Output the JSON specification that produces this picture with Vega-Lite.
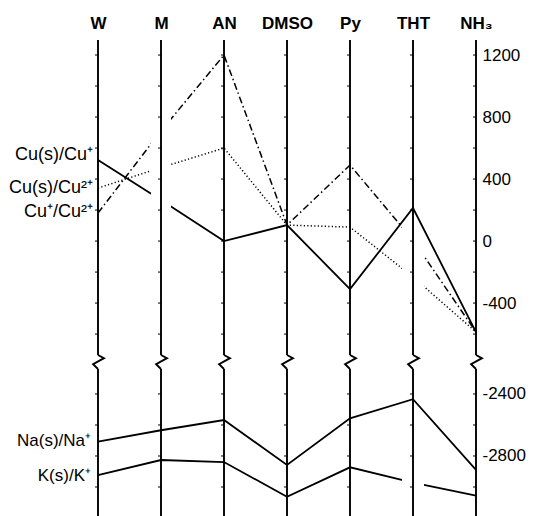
{
  "$schema": "https://vega.github.io/schema/vega-lite/v6.json",
  "width": 476,
  "height": 476,
  "autosize": {"type": "none"},
  "padding": {"left": 0, "top": 40, "right": 63, "bottom": 0},
  "background": "white",
  "config": {"view": {"stroke": null}, "font": "Liberation Sans"},
  "datasets": {
    "E": [
      {"couple": "Cu(s)/Cu+", "solvent": "W", "E": 523},
      {"couple": "Cu(s)/Cu+", "solvent": "M", "E": 265},
      {"couple": "Cu(s)/Cu+", "solvent": "AN", "E": 0},
      {"couple": "Cu(s)/Cu+", "solvent": "DMSO", "E": 103},
      {"couple": "Cu(s)/Cu+", "solvent": "Py", "E": -310},
      {"couple": "Cu(s)/Cu+", "solvent": "THT", "E": 213},
      {"couple": "Cu(s)/Cu+", "solvent": "NH₃", "E": -587},
      {"couple": "Cu(s)/Cu2+", "solvent": "W", "E": 342},
      {"couple": "Cu(s)/Cu2+", "solvent": "M", "E": 474},
      {"couple": "Cu(s)/Cu2+", "solvent": "AN", "E": 600},
      {"couple": "Cu(s)/Cu2+", "solvent": "DMSO", "E": 103},
      {"couple": "Cu(s)/Cu2+", "solvent": "Py", "E": 90},
      {"couple": "Cu(s)/Cu2+", "solvent": "THT", "E": -232},
      {"couple": "Cu(s)/Cu2+", "solvent": "NH₃", "E": -587},
      {"couple": "Cu+/Cu2+", "solvent": "W", "E": 181},
      {"couple": "Cu+/Cu2+", "solvent": "M", "E": 710},
      {"couple": "Cu+/Cu2+", "solvent": "AN", "E": 1200},
      {"couple": "Cu+/Cu2+", "solvent": "DMSO", "E": 103},
      {"couple": "Cu+/Cu2+", "solvent": "Py", "E": 490},
      {"couple": "Cu+/Cu2+", "solvent": "THT", "E": 6},
      {"couple": "Cu+/Cu2+", "solvent": "NH₃", "E": -587},
      {"couple": "Na(s)/Na+", "solvent": "W", "E": -2708},
      {"couple": "Na(s)/Na+", "solvent": "M", "E": -2634},
      {"couple": "Na(s)/Na+", "solvent": "AN", "E": -2568},
      {"couple": "Na(s)/Na+", "solvent": "DMSO", "E": -2858},
      {"couple": "Na(s)/Na+", "solvent": "Py", "E": -2557},
      {"couple": "Na(s)/Na+", "solvent": "THT", "E": -2434},
      {"couple": "Na(s)/Na+", "solvent": "NH₃", "E": -2890},
      {"couple": "K(s)/K+", "solvent": "W", "E": -2923},
      {"couple": "K(s)/K+", "solvent": "M", "E": -2826},
      {"couple": "K(s)/K+", "solvent": "AN", "E": -2839},
      {"couple": "K(s)/K+", "solvent": "DMSO", "E": -3063},
      {"couple": "K(s)/K+", "solvent": "Py", "E": -2873},
      {"couple": "K(s)/K+", "solvent": "THT", "E": -2972},
      {"couple": "K(s)/K+", "solvent": "NH₃", "E": -3056}
    ],
    "solvents": [
      {"solvent": "W"}, {"solvent": "M"}, {"solvent": "AN"}, {"solvent": "DMSO"},
      {"solvent": "Py"}, {"solvent": "THT"}, {"solvent": "NH₃"}
    ],
    "ticks": [
      {"E": 1200, "solvent": ["W", "M", "AN", "DMSO", "Py", "THT", "NH₃"]},
      {"E": 1000, "solvent": ["W", "M", "AN", "DMSO", "Py", "THT", "NH₃"]},
      {"E": 800, "solvent": ["W", "M", "AN", "DMSO", "Py", "THT", "NH₃"]},
      {"E": 600, "solvent": ["W", "M", "AN", "DMSO", "Py", "THT", "NH₃"]},
      {"E": 400, "solvent": ["W", "M", "AN", "DMSO", "Py", "THT", "NH₃"]},
      {"E": 200, "solvent": ["W", "M", "AN", "DMSO", "Py", "THT", "NH₃"]},
      {"E": 0, "solvent": ["W", "M", "AN", "DMSO", "Py", "THT", "NH₃"]},
      {"E": -200, "solvent": ["W", "M", "AN", "DMSO", "Py", "THT", "NH₃"]},
      {"E": -400, "solvent": ["W", "M", "AN", "DMSO", "Py", "THT", "NH₃"]},
      {"E": -600, "solvent": ["W", "M", "AN", "DMSO", "Py", "THT", "NH₃"]},
      {"E": -2400, "solvent": ["W", "M", "AN", "DMSO", "Py", "THT", "NH₃"]},
      {"E": -2600, "solvent": ["W", "M", "AN", "DMSO", "Py", "THT", "NH₃"]},
      {"E": -2800, "solvent": ["W", "M", "AN", "DMSO", "Py", "THT", "NH₃"]},
      {"E": -3000, "solvent": ["W", "M", "AN", "DMSO", "Py", "THT", "NH₃"]}
    ],
    "labels": [
      {"label": "Cu(s)/Cu⁺", "group": "Cu", "E": 555},
      {"label": "Cu(s)/Cu²⁺", "group": "Cu", "E": 342},
      {"label": "Cu⁺/Cu²⁺", "group": "Cu", "E": 187},
      {"label": "Na(s)/Na⁺", "group": "alk", "E": -2703},
      {"label": "K(s)/K⁺", "group": "alk", "E": -2929}
    ]
  },
  "layer": [
    {
      "data": {"name": "E"},
      "transform": [{"filter": {"field": "couple", "oneOf": ["Cu(s)/Cu2+", "Cu+/Cu2+"]}}],
      "mark": {"type": "line", "color": "black", "strokeWidth": 1.5},
      "encoding": {
        "x": {
          "field": "solvent", "type": "nominal",
          "scale": {"type": "point", "domain": ["W", "M", "AN", "DMSO", "Py", "THT", "NH₃"], "range": [98, 476], "padding": 0},
          "axis": {"orient": "top", "title": null, "ticks": false, "domain": false, "labelAngle": 0, "labelPadding": 8, "labelFontSize": 17, "labelFontWeight": "bold", "labelColor": "black", "labelFont": "Liberation Sans"}
        },
        "y": {
          "field": "E", "type": "quantitative",
          "scale": {"type": "linear", "domain": [-3187, -2239, -735, 1297], "range": [476, 329, 315, 0], "nice": false, "zero": false},
          "axis": {"orient": "right", "title": null, "values": [1200, 800, 400, 0, -400, -2400, -2800], "labelExpr": "'' + datum.value", "ticks": false, "domain": false, "grid": false, "labelPadding": 6, "labelFontSize": 17, "labelColor": "black", "labelFont": "Liberation Sans"}
        },
        "strokeDash": {
          "field": "couple", "type": "nominal",
          "scale": {"domain": ["Cu(s)/Cu2+", "Cu+/Cu2+"], "range": [[1.2, 2.3], [7, 3, 1.5, 3]]},
          "legend": null
        },
        "order": {"value": null}
      }
    },
    {
      "data": {"name": "E"},
      "transform": [{"filter": {"field": "couple", "equal": "K(s)/K+"}}],
      "mark": {"type": "line", "color": "black", "strokeWidth": 1.8},
      "encoding": {
        "x": {"field": "solvent", "type": "nominal"},
        "y": {"field": "E", "type": "quantitative"},
        "order": {"value": null}
      }
    },
    {
      "data": {"values": [{"solvent": "THT"}]},
      "mark": {"type": "rule", "color": "white", "strokeWidth": 22},
      "encoding": {
        "x": {"field": "solvent", "type": "nominal"}
      }
    },
    {
      "data": {"name": "E"},
      "transform": [{"filter": {"field": "couple", "oneOf": ["Cu(s)/Cu+", "Na(s)/Na+"]}}],
      "mark": {"type": "line", "color": "black", "strokeWidth": 1.8},
      "encoding": {
        "x": {"field": "solvent", "type": "nominal"},
        "y": {"field": "E", "type": "quantitative"},
        "detail": {"field": "couple", "type": "nominal"},
        "order": {"value": null}
      }
    },
    {
      "data": {"values": [{"solvent": "M"}]},
      "mark": {"type": "rule", "color": "white", "strokeWidth": 20},
      "encoding": {
        "x": {"field": "solvent", "type": "nominal"},
        "y": {"datum": 1297, "type": "quantitative"},
        "y2": {"datum": -735}
      }
    },
    {
      "data": {"name": "solvents"},
      "mark": {"type": "rule", "color": "black", "strokeWidth": 1.9},
      "encoding": {
        "x": {"field": "solvent", "type": "nominal"},
        "y": {"datum": 1297, "type": "quantitative"},
        "y2": {"datum": -735}
      }
    },
    {
      "data": {"name": "solvents"},
      "mark": {"type": "rule", "color": "black", "strokeWidth": 1.9},
      "encoding": {
        "x": {"field": "solvent", "type": "nominal"},
        "y": {"datum": -2239, "type": "quantitative"},
        "y2": {"datum": -3187}
      }
    },
    {
      "data": {"name": "ticks"},
      "transform": [{"flatten": ["solvent"]}],
      "mark": {"type": "point", "shape": "M-1,0L0,0", "size": 36, "filled": false, "stroke": "black", "strokeWidth": 1, "opacity": 1},
      "encoding": {
        "x": {"field": "solvent", "type": "nominal"},
        "y": {"field": "E", "type": "quantitative"}
      }
    },
    {
      "data": {"name": "solvents"},
      "mark": {"type": "point", "shape": "M0,-1L0.85,-0.55L-0.7,0.3L0,1", "size": 196, "filled": false, "stroke": "black", "strokeWidth": 1.9, "opacity": 1, "strokeJoin": "miter"},
      "encoding": {
        "x": {"field": "solvent", "type": "nominal"},
        "y": {"datum": -1487, "type": "quantitative"}
      }
    },
    {
      "data": {"name": "labels"},
      "transform": [{"filter": {"field": "group", "equal": "Cu"}}],
      "mark": {"type": "text", "align": "right", "baseline": "middle", "dx": -5, "fontSize": 18, "color": "black", "font": "Liberation Sans"},
      "encoding": {
        "x": {"datum": "W", "type": "nominal"},
        "y": {"field": "E", "type": "quantitative"},
        "text": {"field": "label"}
      }
    },
    {
      "data": {"name": "labels"},
      "transform": [{"filter": {"field": "group", "equal": "alk"}}],
      "mark": {"type": "text", "align": "right", "baseline": "middle", "dx": -7, "fontSize": 17, "color": "black", "font": "Liberation Sans"},
      "encoding": {
        "x": {"datum": "W", "type": "nominal"},
        "y": {"field": "E", "type": "quantitative"},
        "text": {"field": "label"}
      }
    }
  ]
}
